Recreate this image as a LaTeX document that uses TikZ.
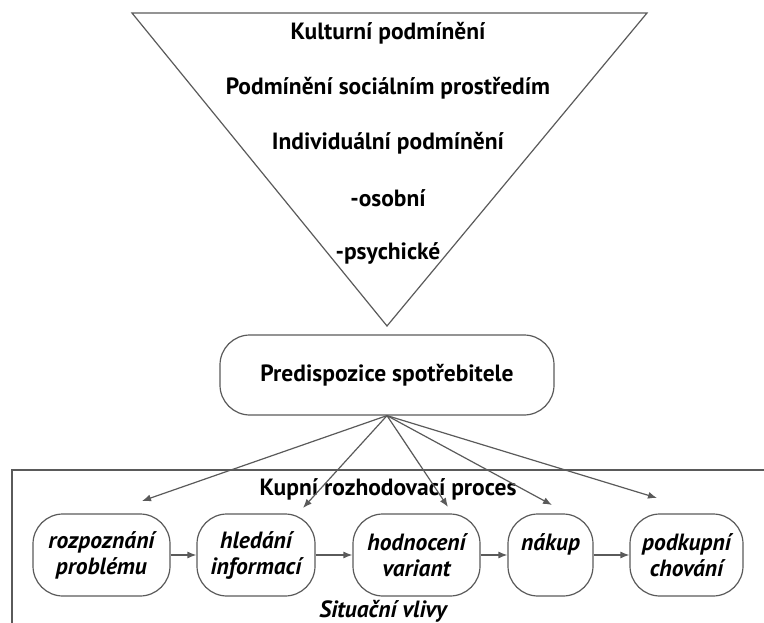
\documentclass[tikz,border=0pt]{standalone}
\usepackage{fontspec}
\setmainfont{PT Sans}
\usetikzlibrary{arrows.meta,positioning}
\definecolor{linie}{RGB}{90,90,90}
\newcommand{\horni}{\fontsize{23.5}{27}\selectfont\bfseries}
\newcommand{\krokfont}{\fontsize{23.5}{26}\selectfont\bfseries\itshape}
\tikzset{
	krok/.style={draw=linie, line width=1.2pt, rounded corners=30pt, minimum width=#1, minimum height=82pt, align=center, inner sep=0pt, text=black, font=\krokfont},
	sipka/.style={-{Latex[length=9pt,width=7pt]}, draw=linie, line width=1.2pt},
	popis/.style={text=black, inner sep=0pt},
}

\begin{document}
\begin{tikzpicture}[x=1pt, y=-1pt, linie]
	\useasboundingbox (0,0) rectangle (764,623);

	% trojuhelnik podmineni
	\draw[line width=1.2pt] (132,13) -- (647,13) -- (387,326) -- cycle;
	\foreach \y/\t [count=\i] in {33/Kulturní podmínění, 88/Podmínění sociálním prostředím, 143/Individuální podmínění, 198/-osobní, 253/-psychické}
		\node[popis, font=\horni] (radek\i) at (388,\y) {\t};

	\node[draw=linie, line width=1.2pt, rounded corners=30pt, minimum width=334pt, minimum height=80pt, popis, font=\horni] (pred) at (387,375) {Predispozice spotřebitele};

	% ramec
	\draw[line width=1.2pt] (770,470) -- (12,470) -- (12,630);
	\node[popis, font=\horni] (proces) at (388,489) {Kupní rozhodovací proces};
	\node[popis, font=\horni\itshape] (vlivy) at (383,611) {Situační vlivy};

	\node[krok=137pt] (b1) at (101.5,555) {rozpoznání\\problému};
	\node[krok=118pt] (b2) at (256,555) {hledání\\informací};
	\node[krok=127pt] (b3) at (416.5,555) {hodnocení\\variant};
	\node[krok=85pt] (b4) at (550.5,555) {nákup\\~};
	\node[krok=113pt] (b5) at (686.5,555) {podkupní\\chování};

	\draw[sipka] (b1) -- (b2);
	\draw[sipka] (b2) -- (b3);
	\draw[sipka] (b3) -- (b4);
	\draw[sipka] (b4) -- (b5);

	\coordinate (c1) at (142,501);
	\coordinate (c2) at (303,508);
	\coordinate (c3) at (448,507);
	\coordinate (c4) at (552,505);
	\coordinate (c5) at (657,498);
	\foreach \c in {c1,c2,c3,c4,c5}
		\draw[sipka] (pred.south) -- (\c);

\end{tikzpicture}
\end{document}
